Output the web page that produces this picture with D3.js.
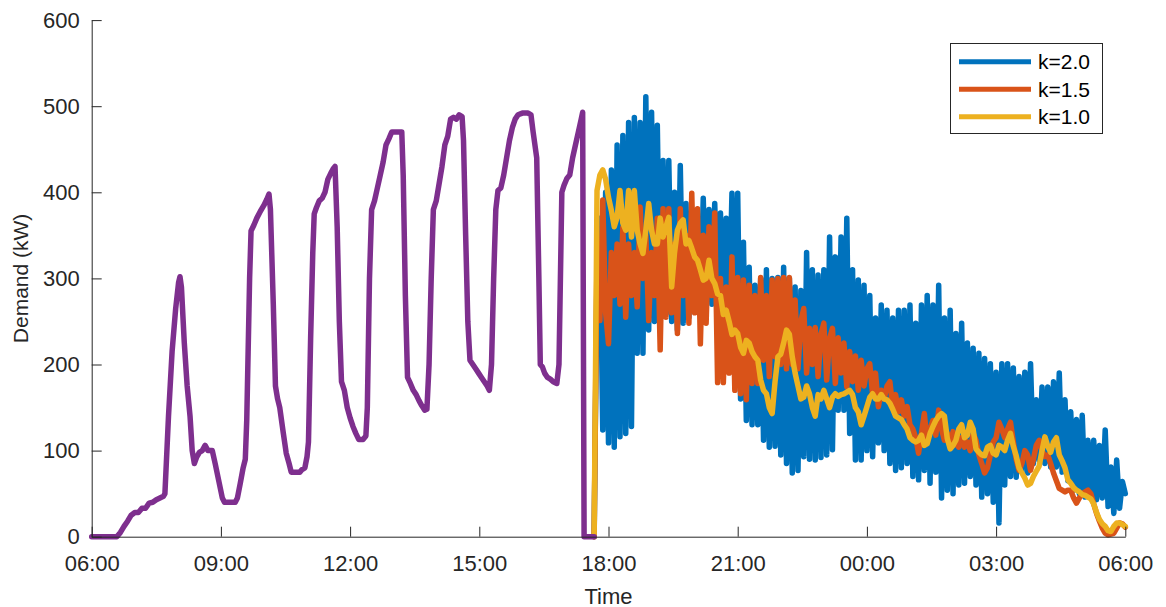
<!DOCTYPE html>
<html>
<head>
<meta charset="utf-8">
<script src="https://cdn.jsdelivr.net/npm/d3@7"></script>
<style>
  body { margin: 0; background: #fff; }
  svg { display: block; }
  text { font-family: "Liberation Sans", Arial, Helvetica, sans-serif; }
</style>
</head>
<body>
<svg id="chart" width="1166" height="607"></svg>
<script>
// ---- data -----------------------------------------------------------------
// Shared daytime demand (kW) before the control period starts, [clock time, kW]
const baseDemand = [
  ["06:00",0],["06:35",0],["06:40",5],["06:45",12],["06:50",18],["06:55",25],["07:00",28],["07:05",28],
  ["07:10",33],["07:15",33],["07:20",39],["07:25",40],["07:30",43],["07:35",45],["07:40",47],["07:42",50],
  ["07:47",140],["07:52",215],["07:57",265],["08:01",295],["08:03",302],["08:05",290],["08:09",225],["08:13",175],
  ["08:17",140],["08:20",100],["08:23",85],["08:26",92],["08:30",98],["08:34",100],["08:38",106],["08:42",100],
  ["08:48",100],["08:52",85],["08:57",65],["09:02",45],["09:05",40],["09:20",40],["09:23",45],["09:27",62],
  ["09:31",80],["09:34",90],["09:36",135],["09:40",300],["09:42",355],["09:46",362],["09:50",370],["09:55",378],
  ["10:00",385],["10:04",392],["10:07",398],["10:09",380],["10:13",270],["10:16",175],["10:19",160],["10:22",150],
  ["10:27",120],["10:31",97],["10:35",85],["10:38",75],["10:50",75],["10:53",78],["10:57",80],["11:00",93],
  ["11:02",110],["11:05",230],["11:08",330],["11:10",375],["11:13",382],["11:17",390],["11:21",393],["11:25",400],
  ["11:29",415],["11:33",422],["11:37",428],["11:39",430],["11:42",360],["11:45",250],["11:48",180],["11:52",170],
  ["11:56",150],["12:00",138],["12:04",128],["12:08",120],["12:12",113],["12:18",113],["12:22",117],["12:24",150],
  ["12:27",300],["12:30",380],["12:34",390],["12:38",405],["12:42",420],["12:46",435],["12:50",455],["12:54",462],
  ["12:58",470],["13:12",470],["13:14",420],["13:17",280],["13:20",185],["13:24",178],["13:28",170],["13:32",165],
  ["13:36",158],["13:40",152],["13:44",147],["13:47",148],["13:50",200],["13:53",300],["13:56",380],["14:00",390],
  ["14:04",410],["14:08",430],["14:12",455],["14:16",465],["14:20",485],["14:24",487],["14:28",485],["14:32",490],
  ["14:36",488],["14:38",460],["14:41",350],["14:44",250],["14:47",205],["14:51",200],["14:55",195],["14:59",190],
  ["15:03",185],["15:07",180],["15:11",175],["15:14",170],["15:17",200],["15:20",300],["15:23",380],["15:26",402],
  ["15:30",405],["15:34",420],["15:38",440],["15:42",460],["15:46",475],["15:50",485],["15:54",490],["16:00",492],
  ["16:08",492],["16:12",490],["16:15",470],["16:20",440],["16:23",300],["16:25",200],["16:28",197],["16:31",190],
  ["16:35",185],["16:39",183],["16:43",180],["16:48",178],["16:51",200],["16:53",300],["16:55",400],["16:58",408],
  ["17:02",416],["17:06",420],["17:10",440],["17:14",455],["17:18",470],["17:22",485],["17:24",493],["17:26",0],
  ["17:40",0]
];

// Controlled demand (kW), sampled every 4 minutes from 17:40 to 06:00
const controlStart = "17:40";
const controlStepMinutes = 4;

const demandK20 = [
  0,310,370,124,400,109,426,104,455,116,
  466,120,481,128,487,213,481,213,511,240,
  493,250,478,255,437,259,437,250,400,240,
  431,248,387,255,380,262,370,265,393,270,
  380,270,387,265,376,260,370,255,399,250,
  399,160,342,135,313,130,292,130,300,112,
  310,104,300,105,301,95,313,85,300,74,
  290,77,286,93,330,90,310,89,304,92,
  310,95,348,101,325,147,348,147,370,120,
  310,89,298,89,292,100,280,93,254,109,
  269,100,263,85,254,77,263,80,263,85,
  269,70,248,66,269,77,280,62,269,75,
  292,45,254,54,263,50,236,60,248,62,
  225,70,219,60,213,46,207,50,201,40,
  191,16,201,60,201,70,196,69,186,75,
  191,74,201,85,159,89,174,85,174,81,
  180,81,190,75,159,65,145,54,136,50,
  141,46,112,45,112,43,106,45,124,35,
  81,27,89,33,64,50
];

const demandK15 = [
  0,330,251,391,260,224,330,280,340,270,
  359,255,340,280,330,267,383,300,350,251,
  330,280,370,217,381,255,381,260,340,236,
  381,280,350,248,399,260,381,224,350,248,
  360,280,376,179,300,179,290,190,325,170,
  301,166,298,159,292,178,280,178,301,205,
  280,186,298,209,300,200,301,195,301,200,
  275,195,250,265,190,242,200,243,186,235,
  248,182,230,242,178,231,190,225,174,215,
  180,210,170,205,175,195,201,165,190,151,
  170,160,175,180,150,165,145,159,140,151,
  130,125,115,97,120,143,110,125,135,118,
  147,125,112,120,105,122,108,104,115,104,
  110,100,120,112,95,85,74,80,95,110,
  115,133,125,115,125,133,110,90,77,85,
  100,95,77,90,106,112,100,93,95,85,
  74,65,56,54,52,54,54,45,39,45,
  50,52,54,50,38,27,18,10,4,2,
  3,4,10,16,15,11
];

const demandK10 = [
  0,402,420,426,415,394,379,360,371,402,
  364,356,402,348,402,356,340,329,356,387,
  356,340,340,370,348,360,371,290,330,356,
  364,368,340,344,335,325,321,310,298,300,
  321,300,294,282,280,258,263,250,235,240,
  236,220,213,228,225,215,209,205,182,170,
  166,150,143,180,209,212,225,240,235,209,
  190,175,160,162,175,166,150,140,165,160,
  170,160,150,162,166,163,165,166,168,170,
  165,150,145,130,140,151,162,166,160,160,
  165,160,159,155,148,140,138,136,130,125,
  115,112,110,112,118,106,108,120,128,135,
  140,143,140,114,102,106,112,125,130,115,
  118,133,125,102,98,95,94,104,106,97,
  95,106,104,100,112,120,105,94,80,74,
  68,60,62,70,76,82,100,116,105,98,
  110,115,95,88,80,66,62,57,54,52,
  49,48,46,44,38,28,20,15,12,7,
  6,12,16,16,14,12
];

const seriesNames = ["k=2.0", "k=1.5", "k=1.0"];
const seriesColors = ["#0072BD", "#D95319", "#EDB120"];
const baseColor = "#7E2F8E";

const yTickValues = [0, 100, 200, 300, 400, 500, 600];
const xTickLabels = ["06:00", "09:00", "12:00", "15:00", "18:00", "21:00", "00:00", "03:00", "06:00"];

// ---- time helpers -----------------------------------------------------------
const dayStart = new Date(2020, 0, 1, 6, 0);
const dayEnd = d3.timeHour.offset(dayStart, 24);
function clock(hhmm, afterDate) {
  const [h, m] = hhmm.split(":").map(Number);
  let d = new Date(2020, 0, 1, h, m);
  const ref = afterDate || dayStart;
  while (d < ref) d = d3.timeDay.offset(d, 1);
  return d;
}

// tick dates: each label falls after the one before it
const xTickDates = [];
xTickLabels.forEach((lab, i) => {
  const prev = i === 0 ? dayStart : d3.timeMinute.offset(xTickDates[i - 1], 1);
  xTickDates.push(clock(lab, prev));
});

// ---- chart ------------------------------------------------------------------
const svg = d3.select("#chart");
const plotLeft = 91.7, plotRight = 1125.3, plotTop = 20.1, plotBottom = 536.7;
const ink = "#262626";
const lineW = 5.5;

const x = d3.scaleTime().domain([dayStart, dayEnd]).range([plotLeft, plotRight]);
const y = d3.scaleLinear().domain([0, 600]).range([plotBottom, plotTop]);

const line = d3.line().x(d => x(d.t)).y(d => y(d.v));

const ctrlT0 = clock(controlStart);
const toSeries = arr => arr.map((v, i) => ({ t: d3.timeMinute.offset(ctrlT0, controlStepMinutes * i), v }));
const series = [demandK20, demandK15, demandK10].map(toSeries);
const base = baseDemand.map(([t, v]) => ({ t: clock(t), v }));

const plot = svg.append("g");
series.forEach((s, i) => {
  plot.append("path")
    .datum(s)
    .attr("d", line)
    .attr("fill", "none")
    .attr("stroke", seriesColors[i])
    .attr("stroke-width", lineW)
    .attr("stroke-linejoin", "round")
    .attr("stroke-linecap", "round");
});
plot.append("path")
  .datum(base)
  .attr("d", line)
  .attr("fill", "none")
  .attr("stroke", baseColor)
  .attr("stroke-width", lineW)
  .attr("stroke-linejoin", "round")
  .attr("stroke-linecap", "round");

// axes with inward ticks, no box
const xAxis = d3.axisBottom(x)
  .tickValues(xTickDates)
  .tickFormat((d, i) => xTickLabels[i])
  .tickSizeInner(-10).tickSizeOuter(0).tickPadding(19);
const yAxis = d3.axisLeft(y)
  .tickValues(yTickValues)
  .tickSizeInner(-10).tickSizeOuter(0).tickPadding(12);

const gx = svg.append("g").attr("transform", `translate(0,${plotBottom})`).call(xAxis);
const gy = svg.append("g").attr("transform", `translate(${plotLeft},0)`).call(yAxis);
[gx, gy].forEach(g => {
  g.select(".domain").attr("stroke", ink).attr("stroke-width", 1);
  g.selectAll(".tick line").attr("stroke", ink).attr("stroke-width", 1);
  g.selectAll(".tick text").attr("fill", ink).style("font-size", "22px")
    .style("font-family", '"Liberation Sans", Arial, sans-serif');
});

svg.append("text")
  .attr("x", (plotLeft + plotRight) / 2).attr("y", 596)
  .attr("text-anchor", "middle").attr("dominant-baseline", "central")
  .attr("fill", ink).style("font-size", "22px")
  .text("Time");

svg.append("text")
  .attr("transform", `translate(20,${(plotTop + plotBottom) / 2}) rotate(-90)`)
  .attr("text-anchor", "middle").attr("dominant-baseline", "central")
  .attr("fill", ink).style("font-size", "21px")
  .text("Demand (kW)");

// legend
const lg = svg.append("g");
lg.append("rect")
  .attr("x", 950.5).attr("y", 43.5).attr("width", 152).attr("height", 90)
  .attr("fill", "#fff").attr("stroke", ink).attr("stroke-width", 1);
seriesNames.forEach((name, i) => {
  const yy = 61.7 + i * 27.5;
  lg.append("line")
    .attr("x1", 959).attr("x2", 1031).attr("y1", yy).attr("y2", yy)
    .attr("stroke", seriesColors[i]).attr("stroke-width", 5);
  lg.append("text")
    .attr("x", 1038).attr("y", yy)
    .attr("dominant-baseline", "central")
    .attr("fill", "#000").style("font-size", "21px")
    .text(name);
});
</script>
</body>
</html>
